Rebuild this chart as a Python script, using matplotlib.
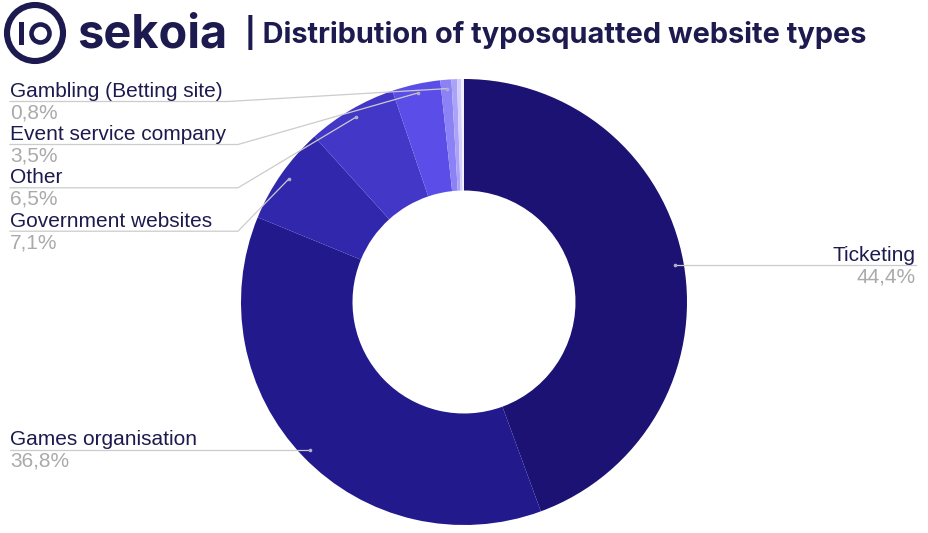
import numpy as np
import matplotlib.pyplot as plt
from matplotlib.patches import Circle, Rectangle

# --- DATA ---
categories = ["Ticketing", "Games organisation", "Government websites", "Other",
              "Event service company", "Gambling (Betting site)", "", "", ""]
shares = [44.4, 36.8, 7.1, 6.5, 3.5, 0.8, 0.4, 0.3, 0.2]
pct_labels = ["44,4%", "36,8%", "7,1%", "6,5%", "3,5%", "0,8%", "", "", ""]
colors = ["#1c1273", "#221a8c", "#3127ad", "#4337c8", "#5b4ee8",
          "#8c82f5", "#aba3f8", "#d2cdfc", "#f1effe"]

title = "| Distribution of typosquatted website types"
NAVY = "#1d1a4f"
GREY = "#aaaaaa"
LINE = "#cccccc"

W, H = 929, 533
fig = plt.figure(figsize=(W / 100, H / 100), dpi=100)
ax = fig.add_axes([0, 0, 1, 1])

# --- Donut ---
cx, cy, R = 464, 302, 223
wedges, _ = ax.pie(shares, colors=colors, startangle=-90, counterclock=True,
                   center=(cx, cy), radius=R,
                   wedgeprops=dict(width=R * 0.5, linewidth=0))
ax.set_xlim(0, W)
ax.set_ylim(H, 0)
ax.set_aspect("auto")
ax.axis("off")

# --- Labels (name baseline, bend x, side) ---
label_layout = {
    0: (260.7, None, "right"),
    1: (445, None, "left"),
    2: (226.7, 238, "left"),
    3: (183.3, 238, "left"),
    4: (140, 238, "left"),
    5: (97, 228, "left"),
}
lab_font = dict(family=["Liberation Sans", "DejaVu Sans"], fontsize=15)

for i, (base_y, bend_x, side) in label_layout.items():
    w = wedges[i]
    th = np.deg2rad((w.theta1 + w.theta2) / 2)
    px = cx + 0.96 * R * np.cos(th)
    py = cy + 0.96 * R * np.sin(th)
    line_y = base_y + 4.5
    if side == "right":
        ax.plot([px, 916], [py, py], color=LINE, lw=0.9, zorder=3)
        ax.text(916, base_y, categories[i], ha="right", va="baseline", color=NAVY, **lab_font)
        ax.text(916, base_y + 22, pct_labels[i], ha="right", va="baseline", color=GREY, **lab_font)
    else:
        if bend_x is None:
            ax.plot([10, px], [py, py], color=LINE, lw=0.9, zorder=3)
        else:
            ax.plot([10, bend_x, px], [line_y, line_y, py], color=LINE, lw=0.9, zorder=3)
        ax.text(10, base_y, categories[i], ha="left", va="baseline", color=NAVY, **lab_font)
        ax.text(10, base_y + 21.5, pct_labels[i], ha="left", va="baseline", color=GREY, **lab_font)
    ax.plot(px, py, "o", ms=1.6, color="#b0b0c8", zorder=4)

# --- Logo ---
ax.add_patch(Circle((35, 33), 28, fill=False, lw=4.4, ec=NAVY))
ax.add_patch(Rectangle((19.5, 22), 5.0, 23, color=NAVY, lw=0))
ax.add_patch(Circle((40.5, 33.5), 9.0, fill=False, lw=3.3, ec=NAVY))
logo = ax.text(77, 48, "sekoia", ha="left", va="baseline", color=NAVY,
               family=["Inter", "DejaVu Sans"], fontweight="bold", fontsize=34.5)

# --- Title, sized to fit its span ---
t = ax.text(245, 43, title, ha="left", va="baseline", color=NAVY,
            family=["Inter", "DejaVu Sans"], fontweight="bold", fontsize=21)
fig.canvas.draw()
r = fig.canvas.get_renderer()
wt = t.get_window_extent(r).width
t.set_fontsize(21 * 623 / wt)
wl = logo.get_window_extent(r).width
logo.set_fontsize(34.5 * 150 / wl)

fig.savefig("out.png", dpi=100, facecolor="white")
